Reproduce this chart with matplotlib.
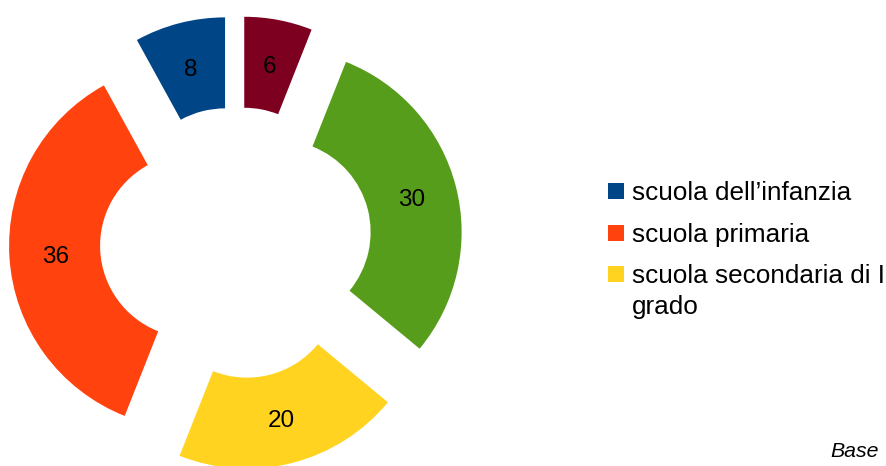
import matplotlib.pyplot as plt
from matplotlib.patches import Rectangle

plt.rcParams['font.family'] = ['Liberation Sans', 'DejaVu Sans']

# Data
values = [6, 30, 20, 36, 8]
colors = ['#7E0021', '#579D1C', '#FFD320', '#FF420E', '#004586']
legend_labels = ['scuola dell\u2019infanzia', 'scuola primaria', 'scuola secondaria di I\ngrado']
legend_colors = ['#004586', '#FF420E', '#FFD320']

fig = plt.figure(figsize=(8.86, 4.66), dpi=100)
ax = fig.add_axes([0, 0, 1, 1])

# work in pixel units, y up
R = 183
ring = 91
wedges, texts, autotexts = ax.pie(
    values, colors=colors, radius=R, center=(236, 223),
    explode=[44] * len(values), startangle=90, counterclock=False,
    wedgeprops=dict(width=ring, linewidth=0),
    autopct=lambda p: f'{p * sum(values) / 100:.0f}', pctdistance=0.75,
    textprops=dict(fontsize=17.5, color='black'))
for t in autotexts:
    t.set_va('center_baseline')

ax.set_xlim(0, 886)
ax.set_ylim(0, 466)
ax.set_aspect('equal')
ax.axis('off')

# legend
rows = [466 - 199.5, 466 - 241.7, 466 - 283.3]
for lab, col, yb in zip(legend_labels, legend_colors, rows):
    ax.add_patch(Rectangle((608, yb + 1), 16, 16, color=col, lw=0))
    first, *rest = lab.split('\n')
    ax.text(632, yb, first, fontsize=18.8, va='baseline', ha='left')
    for i, line in enumerate(rest, 1):
        ax.text(632, yb - 30.7 * i, line, fontsize=18.8, va='baseline', ha='left')

ax.text(879, 466 - 457, 'Base', fontsize=15.3, style='italic', ha='right', va='baseline')

plt.savefig('out.png', dpi=100)
